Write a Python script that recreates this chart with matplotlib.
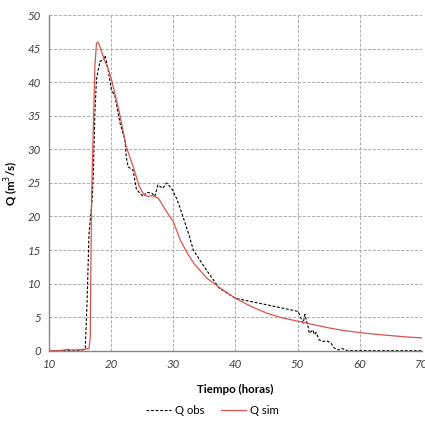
import matplotlib
matplotlib.use("Agg")
import matplotlib.pyplot as plt

# simulated discharge
t_sim = [10, 11, 12, 13, 13.5, 14, 15, 15.5, 16, 16.4, 16.6, 16.8, 17.1, 17.35, 17.6, 17.85,
         18.1, 18.8, 19.5, 20.1, 21.2, 22.4, 23.6, 24.5, 25.2, 25.8, 26.6, 27.6, 28.7, 30.0,
         31.1, 32.2, 33.3, 35.4, 37.6, 40, 42.5, 45, 47.5, 50, 52.5, 55, 57.5, 60, 62.5, 65,
         67.5, 70]
q_sim = [0, 0, 0.05, 0.2, 0.1, 0.1, 0.15, 0.1, 0.3, 0.3, 2, 22.5, 33.4, 42.4, 45.8, 46.0,
         45.5, 43.5, 42, 40.1, 35.9, 30.4, 27.2, 24.5, 23.3, 23.0, 23.1, 22.7, 21.0, 19.2,
         16.5, 14.6, 13.0, 10.8, 9.3, 7.8, 6.6, 5.6, 4.9, 4.4, 3.9, 3.4, 3.0, 2.7, 2.45, 2.25,
         2.05, 1.9]

# observed discharge
t_obs = [10, 12, 14, 15, 15.8, 16.1, 16.4, 16.9, 17.1, 17.35, 17.6, 18.15, 18.7, 19.0, 19.5,
         20.0, 20.6, 21.4, 22.2, 22.4, 22.7, 23.5, 24.05, 24.6, 25.1, 25.7, 26.5, 27.0, 27.5,
         28.3, 28.9, 29.7, 30.5, 31.0, 32.6, 33.2, 35.3, 37.4, 40, 45, 50.1, 50.9, 51.2, 51.4,
         51.7, 51.9, 52.5, 52.7, 53.0, 53.5, 54.1, 54.9, 55.4, 55.9, 56.7, 57.3, 58.1, 60, 65, 70]
q_obs = [0, 0, 0, 0, 0.4, 7.6, 17.5, 22.4, 26.5, 35.5, 40.4, 43.1, 43.4, 44.0, 41.8,
         38.9, 37.9, 33.9, 31.4, 28.9, 27.4, 26.9, 24.0, 23.5, 23.0, 23.6, 23.5, 23.0, 24.7,
         24.2, 25.0, 24.2, 22.7, 21.5, 17.0, 15.0, 12.05, 9.3, 7.8, 6.85, 5.85, 4.1, 5.4, 4.6,
         3.6, 2.6, 3.1, 2.4, 2.7, 1.6, 1.4, 1.4, 1.1, 0.4, 0.1, 0.3, 0, 0, 0, 0]

plt.rcParams['font.family'] = ['Lato', 'DejaVu Sans']

fig = plt.figure(figsize=(4.25, 4.23), dpi=100)
ax = fig.add_axes([0.116, 0.171, 0.876, 0.793])

ax.plot(t_obs, q_obs, color='black', lw=0.8, ls=(0, (2.5, 1.6)), label='Q obs')
ax.plot(t_sim, q_sim, color='#d9534f', lw=0.9, label='Q sim')

ax.set_xlim(10, 70)
ax.set_ylim(0, 50)
ax.set_xticks(range(10, 71, 10))
ax.set_yticks(range(0, 51, 5))
ax.grid(True, color='#b0b0b0', ls=(0, (3, 1.5)), lw=0.75)
ax.set_axisbelow(True)

for s in ['top', 'right']:
    ax.spines[s].set_visible(False)
for s in ['left', 'bottom']:
    ax.spines[s].set_color('#868686')
    ax.spines[s].set_linewidth(1.0)

ax.tick_params(length=0, pad=6, labelsize=8.3, labelcolor='#404040')
for lab in ax.get_xticklabels() + ax.get_yticklabels():
    lab.set_fontstyle('italic')

ax.set_xlabel('Tiempo (horas)', fontsize=8.3, fontweight='bold', labelpad=10)
ax.set_ylabel('Q (m$^3$/s)', fontsize=8.3, fontweight='bold', labelpad=5)

fig.legend(loc='center', bbox_to_anchor=(0.5, 0.03), ncol=2, frameon=False,
           fontsize=8.2, handlelength=2.2, columnspacing=1.5, handletextpad=0.3)

fig.savefig('out.png', dpi=100)
